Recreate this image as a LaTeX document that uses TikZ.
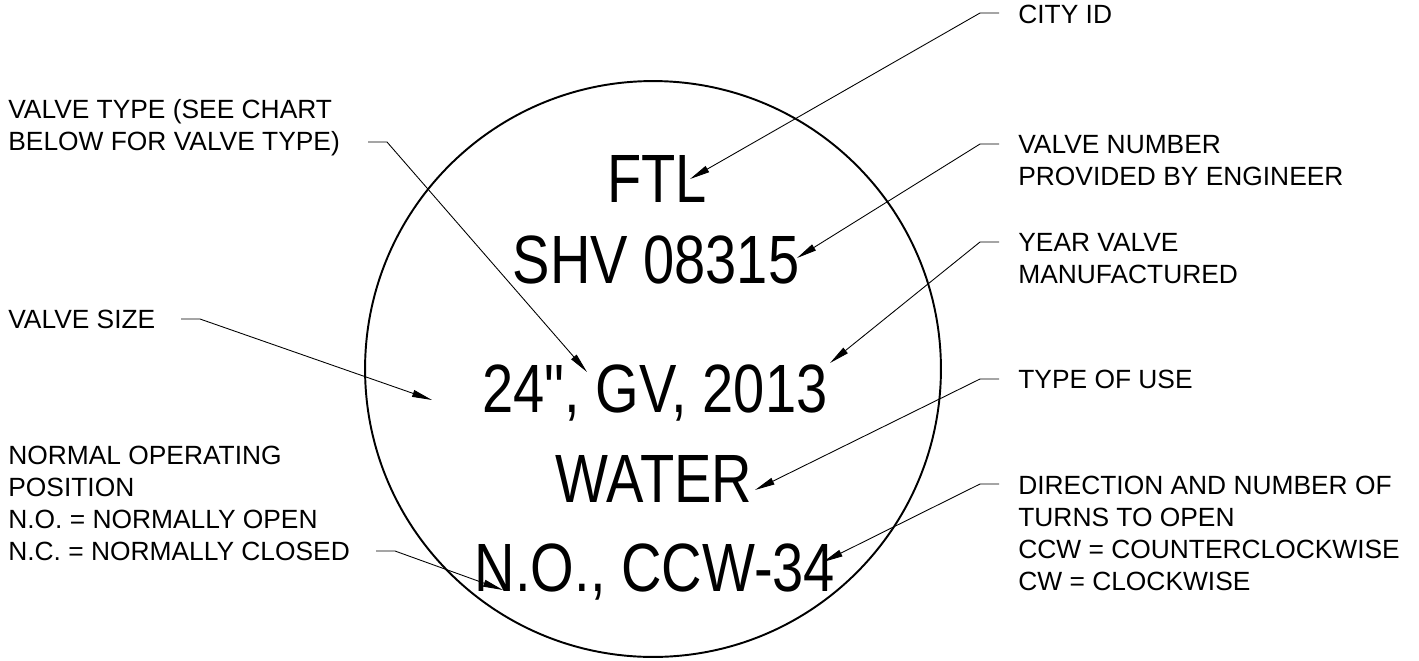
\documentclass[tikz,border=0pt]{standalone}
\usepackage{fontspec}
\setmainfont{Liberation Sans}
\newfontfamily\tagfont{Liberation Sans}[FakeStretch=0.82]
\usetikzlibrary{arrows.meta}
\tikzset{
  rim/.style={circle,draw=black,line width=1.1pt,minimum size=11.52cm,inner sep=0pt},
  big/.style={font=\tagfont\fontsize{38.9}{44}\selectfont,inner sep=0pt,anchor=base},
  lbl/.style={font=\fontsize{15}{18.2}\selectfont,align=left,inner sep=0pt,anchor=base west},
  ldr/.style={draw=black,line width=.5pt,-{Triangle[length=4mm,width=1.4mm]}},
}
\begin{document}
\begin{tikzpicture}[x=0.02cm,y=-0.02cm]
\useasboundingbox (0,0) rectangle (1419,660);
% the tag
\node[rim] (tag) at (653,369) {};
\node[big] (ftl) at (657,202) {FTL};
\node[big] (shv) at (656,283) {SHV 08315};
\node[big] (gv) at (655,412) {24", GV, 2013};
\node[big] (wtr) at (654,502) {WATER};
\node[big] (ccw) at (655,591) {N.O., CCW-34};
% labels, right side (a node sits on the baseline of its last line)
\node[lbl] (cityid) at (1018,23) {CITY ID};
\node[lbl] (valnum) at (1018,185) {VALVE NUMBER\\PROVIDED BY ENGINEER};
\node[lbl] (year) at (1018,283) {YEAR VALVE\\MANUFACTURED};
\node[lbl] (use) at (1018,388) {TYPE OF USE};
\node[lbl] (turns) at (1018,590)
  {DIRECTION AND NUMBER OF\\TURNS TO OPEN\\CCW = COUNTERCLOCKWISE\\CW = CLOCKWISE};
% labels, left side
\node[lbl] (vtype) at (8,150) {VALVE TYPE (SEE CHART\\BELOW FOR VALVE TYPE)};
\node[lbl] (vsize) at (8,328) {VALVE SIZE};
\node[lbl] (normal) at (8,560)
  {NORMAL OPERATING\\POSITION\\N.O. = NORMALLY OPEN\\N.C. = NORMALLY CLOSED};
% leader ends and arrow tips
\coordinate (cityid-l) at (999,13);  \coordinate (ftl-t) at (690,179);
\coordinate (valnum-l) at (999,144); \coordinate (shv-t) at (797,258);
\coordinate (year-l) at (999,242);   \coordinate (yr-t) at (830,363);
\coordinate (use-l) at (999,379);    \coordinate (wtr-t) at (755,490);
\coordinate (turns-l) at (999,484);  \coordinate (ccw-t) at (823,562);
\coordinate (vtype-l) at (368,142);  \coordinate (gv-t) at (587,372);
\coordinate (vsize-l) at (181,319);  \coordinate (sz-t) at (432,400);
\coordinate (normal-l) at (376,551); \coordinate (no-t) at (503,590);
\draw[ldr] (cityid-l) -- ++(-19,0) -- (ftl-t);
\draw[ldr] (valnum-l) -- ++(-19,0) -- (shv-t);
\draw[ldr] (year-l) -- ++(-19,0) -- (yr-t);
\draw[ldr] (use-l) -- ++(-19,0) -- (wtr-t);
\draw[ldr] (turns-l) -- ++(-19,0) -- (ccw-t);
\draw[ldr] (vtype-l) -- ++(19,0) -- (gv-t);
\draw[ldr] (vsize-l) -- ++(19,0) -- (sz-t);
\draw[ldr] (normal-l) -- ++(19,0) -- (no-t);
\end{tikzpicture}
\end{document}
